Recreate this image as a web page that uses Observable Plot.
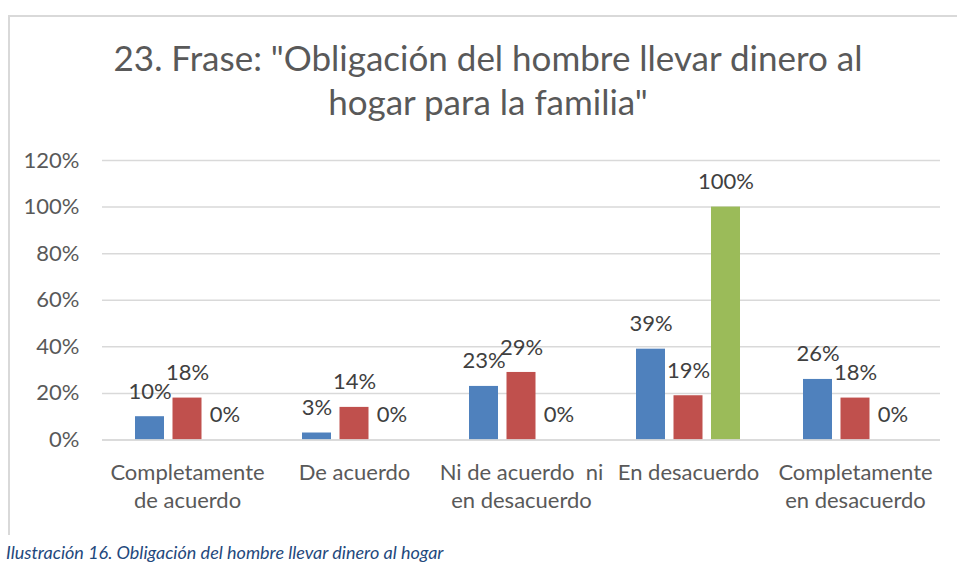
<!DOCTYPE html>
<html>
<head>
<meta charset="utf-8">
<script src="https://cdn.jsdelivr.net/npm/d3@7"></script>
<script src="https://cdn.jsdelivr.net/npm/@observablehq/plot@0.6"></script>
<style>
  html, body { margin: 0; padding: 0; background: #fff; }
  body { width: 957px; height: 583px; position: relative; overflow: hidden; font-family: Lato, "Open Sans", sans-serif; }
  #frame { position: absolute; left: 8px; top: 15px; width: 960px; height: 520px;
           border-top: 2px solid #d9d9d9; border-left: 2px solid #d9d9d9; box-sizing: border-box; }
  #title { position: absolute; left: 0; width: 976px; top: 35px; text-align: center;
           font-size: 35px; line-height: 44px; color: #595959; }
  #chart { position: absolute; left: 0; top: 130px; }
  #caption { position: absolute; left: 6px; top: 541px; font-size: 18px; font-style: italic; color: #1f497d; }
</style>
</head>
<body>
<div id="frame"></div>
<div id="title">23. Frase: "Obligación del hombre llevar dinero al<br>hogar para la familia"</div>
<div id="chart"></div>
<div id="caption">Ilustración 16. Obligación del hombre llevar dinero al hogar</div>
<script>
const categories = ["Completamente de acuerdo", "De acuerdo", "Ni de acuerdo ni en desacuerdo", "En desacuerdo", "Completamente en desacuerdo"];
const categoryLabels = ["Completamente\nde acuerdo", "De acuerdo", "Ni de acuerdo\u00a0\u00a0ni\nen desacuerdo", "En desacuerdo", "Completamente\nen desacuerdo"];
const seriesNames = ["Serie 1", "Serie 2", "Serie 3"];
const serie1 = [0.10, 0.03, 0.23, 0.39, 0.26];
const serie2 = [0.18, 0.14, 0.29, 0.19, 0.18];
const serie3 = [0.00, 0.00, 0.00, 1.00, 0.00];
const yTicks = [0, 0.2, 0.4, 0.6, 0.8, 1.0, 1.2];
const colors = ["#4f81bd", "#c0504d", "#9bbb59"];

const allSeries = [serie1, serie2, serie3];
const rows = [];
allSeries.forEach((vals, s) => vals.forEach((v, i) => rows.push({category: categories[i], series: seriesNames[s], value: v})));

const labelOf = new Map(categories.map((c, i) => [c, categoryLabels[i]]));
const fmt = d3.format(".0%");

// band of each category: 104px wide; bars 29px, gap 8px
const insets = [[0, 75], [37.5, 37.5], [75, 0]];
const offsets = [-37.5, 0, 37.5];

const marks = [
  Plot.gridY(yTicks, {stroke: "#d9d9d9", strokeOpacity: 1, strokeWidth: 1.5})
];
seriesNames.forEach((name, s) => {
  const data = rows.filter(r => r.series === name);
  marks.push(Plot.barY(data, {x: "category", y: "value", fill: colors[s], insetLeft: insets[s][0], insetRight: insets[s][1]}));
  marks.push(Plot.text(data, {x: "category", y: "value", text: d => fmt(d.value), dx: offsets[s], dy: -25,
    fill: "#404040", fontSize: 22}));
});
marks.push(Plot.ruleY([0], {stroke: "#d9d9d9", strokeWidth: 1.5}));
marks.push(Plot.axisY({ticks: yTicks, tickFormat: fmt, tickSize: 0, tickPadding: 23, fontSize: 22, fill: "#595959", label: null}));
marks.push(Plot.axisX({tickFormat: d => labelOf.get(d), tickSize: 0, tickPadding: 20, fontSize: 22, lineHeight: 1.27, fill: "#595959", label: null}));

const chart = Plot.plot({
  width: 957,
  height: 410,
  marginLeft: 102,
  marginRight: 17,
  marginTop: 30,
  marginBottom: 100.5,
  style: {fontFamily: "Lato, 'Open Sans', sans-serif", background: "transparent", overflow: "visible"},
  x: {domain: categories, paddingInner: 0.38, paddingOuter: 0.19, axis: null},
  y: {domain: [0, 1.2], axis: null},
  marks
});
document.getElementById("chart").appendChild(chart);
</script>
</body>
</html>
